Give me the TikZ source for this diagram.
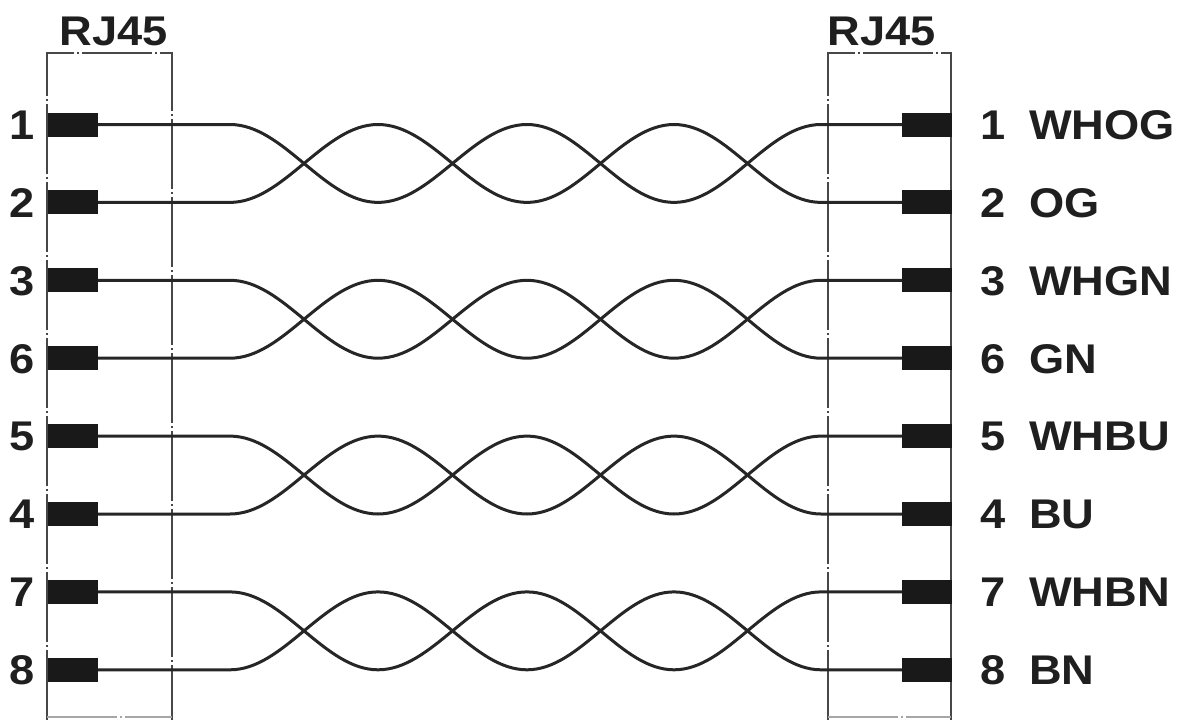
\documentclass[tikz,border=0pt]{standalone}
\usepackage{fontspec}
\setmainfont{Liberation Sans}
\newfontfamily\lblfont[FakeStretch=1.09]{Liberation Sans}
\begin{document}
\begin{tikzpicture}[x=1pt,y=-1pt,
  pinbox/.style={fill=black!90, draw=none, minimum width=50pt, minimum height=24pt, inner sep=0pt, outer sep=0pt},
  wire/.style={line width=3pt, black!85},
  frame/.style={line width=2.8pt, black!72, dash pattern=on 70pt off 3pt on 2pt off 3pt},
  lbl/.style={font=\lblfont\fontsize{41.5}{49}\selectfont\bfseries, inner sep=0pt, outer sep=0pt, text=black!88}]
\useasboundingbox (0,0) rectangle (1178,720);

% connector frames
\draw[frame] (47,720) -- (47,53) -- (172,53) -- (172,720);
\draw[frame] (828,720) -- (828,53) -- (951,53) -- (951,720);
\draw[frame, black!35] (47,717) -- (172,717);
\draw[frame, black!35] (828,717) -- (951,717);
\node[lbl, anchor=base] (rjl) at (114,45) {RJ45};
\node[lbl, anchor=base] (rjr) at (882,45) {RJ45};

% pins and labels
\foreach \i/\y/\n/\c in {1/124.5/1/WHOG, 2/202.4/2/OG, 3/280.3/3/WHGN, 4/358.2/6/GN,
                        5/436.1/5/WHBU, 6/514/4/BU, 7/591.9/7/WHBN, 8/669.8/8/BN}{
  \node[pinbox, anchor=west] (L\i) at (48,\y) {};
  \node[pinbox, anchor=east] (R\i) at (952,\y) {};
  \node[lbl, anchor=base east] (ln\i) at (34.5,\y+14.8) {\n};
  \node[lbl, anchor=base west] (rn\i) at (980,\y+14.8) {\n\hspace{24pt}\c};
}

% twisted pairs
\foreach \t/\b/\yt/\yb/\ym in {1/2/124.5/202.4/163.45, 3/4/280.3/358.2/319.25,
                              5/6/436.1/514/475.05, 7/8/591.9/669.8/630.85}{
  \draw[wire] (L\t.east) -- (230,\yt) cos (304,\ym) sin (378,\yb) cos (452.5,\ym) sin (527,\yt)
     cos (600.5,\ym) sin (674,\yb) cos (747.5,\ym) sin (821,\yt) -- (R\t.west);
  \draw[wire] (L\b.east) -- (230,\yb) cos (304,\ym) sin (378,\yt) cos (452.5,\ym) sin (527,\yb)
     cos (600.5,\ym) sin (674,\yt) cos (747.5,\ym) sin (821,\yb) -- (R\b.west);
}
\end{tikzpicture}
\end{document}
